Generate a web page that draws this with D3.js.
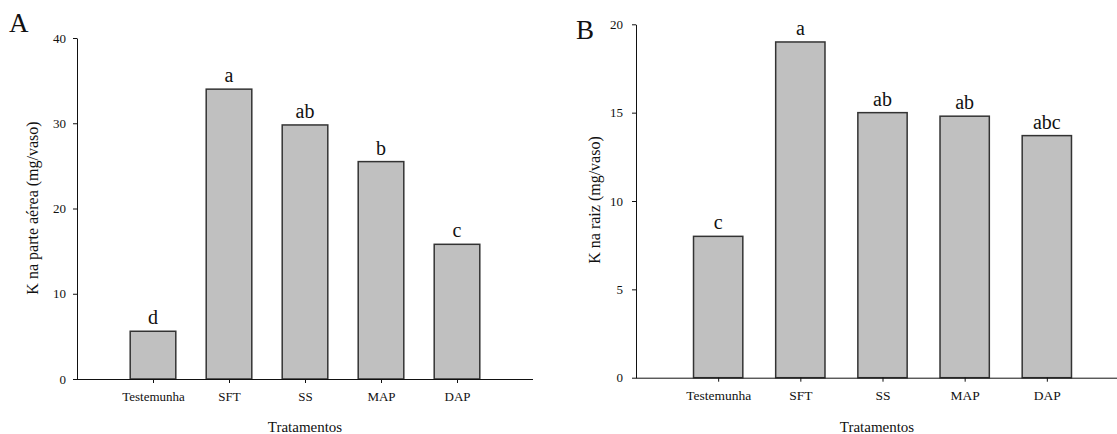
<!DOCTYPE html>
<html>
<head>
<meta charset="utf-8">
<script src="https://cdn.jsdelivr.net/npm/d3@7"></script>
<style>
  html, body { margin: 0; padding: 0; background: #fff; }
  svg { display: block; }
  text { font-family: "Liberation Serif", "Times New Roman", serif; fill: #111; }
</style>
</head>
<body>
<svg id="chart" width="1117" height="434"></svg>
<script>
// Treatments and K contents
const categories = ["Testemunha", "SFT", "SS", "MAP", "DAP"];
const shootK = [5.6, 34.0, 29.8, 25.5, 15.8];
const shootLetters = ["d", "a", "ab", "b", "c"];
const rootK = [8.0, 19.0, 15.0, 14.8, 13.7];
const rootLetters = ["c", "a", "ab", "ab", "abc"];
const shootTicks = [0, 10, 20, 30, 40];
const rootTicks = [0, 5, 10, 15, 20];

const svg = d3.select("#chart");

function panel(opts) {
  const g = svg.append("g");
  const x = d3.scalePoint().domain(categories).range([opts.x0, opts.x1]).padding(1);
  const y = d3.scaleLinear().domain([0, opts.yMax]).range([opts.yBottom, opts.yTop]);
  const bw = x.step() * 0.6;

  // bars
  g.selectAll("rect.bar").data(opts.values).enter().append("rect")
    .attr("class", "bar")
    .attr("x", (d, i) => x(categories[i]) - bw / 2)
    .attr("y", d => y(d))
    .attr("width", bw)
    .attr("height", d => y(0) - y(d))
    .attr("fill", "#c0c0c0")
    .attr("stroke", "#333")
    .attr("stroke-width", 1.5);

  // significance letters
  g.selectAll("text.letter").data(opts.values).enter().append("text")
    .attr("class", "letter")
    .attr("x", (d, i) => x(categories[i]))
    .attr("y", d => y(d) - 7)
    .attr("text-anchor", "middle")
    .attr("font-size", 20)
    .text((d, i) => opts.letters[i]);

  // y axis
  const ya = g.append("g")
    .attr("transform", `translate(${opts.x0},0)`)
    .call(d3.axisLeft(y).tickValues(opts.ticks).tickSize(4).tickPadding(opts.tickPad).tickSizeOuter(0));
  ya.selectAll("text").attr("font-size", 13).attr("font-family", "Liberation Serif").attr("fill", "#222");

  // x axis
  const xa = g.append("g")
    .attr("transform", `translate(0,${opts.yBottom})`)
    .call(d3.axisBottom(x).tickSize(4).tickPadding(9).tickSizeOuter(0));
  xa.selectAll("text").attr("font-size", opts.catSize).attr("font-family", "Liberation Serif").attr("fill", "#222");
  xa.select(".domain").attr("d", `M${opts.x0},0.5H${opts.x1}`);

  g.selectAll(".domain").attr("stroke", "#111");
  g.selectAll(".tick line").attr("stroke", "#111");

  // axis titles
  g.append("text")
    .attr("x", opts.xTitleX).attr("y", 432)
    .attr("text-anchor", "middle").attr("font-size", 15)
    .text("Tratamentos");
  g.append("text")
    .attr("transform", `translate(${opts.yTitleX},${opts.yTitleY}) rotate(-90)`)
    .attr("text-anchor", "middle").attr("font-size", 16)
    .text(opts.yTitle);

  // panel letter
  g.append("text")
    .attr("x", opts.tagX).attr("y", opts.tagY)
    .attr("font-size", 27)
    .text(opts.tag);
}

panel({
  x0: 77, x1: 533, yTop: 38, yBottom: 379, yMax: 40,
  values: shootK, letters: shootLetters, ticks: shootTicks, tickPad: 7, catSize: 13,
  xTitleX: 305, yTitleX: 38, yTitleY: 208, yTitle: "K na parte aérea (mg/vaso)",
  tag: "A", tagX: 9, tagY: 32
});

panel({
  x0: 636, x1: 1129, yTop: 24.3, yBottom: 377.7, yMax: 20,
  values: rootK, letters: rootLetters, ticks: rootTicks, tickPad: 9, catSize: 13.5,
  xTitleX: 877, yTitleX: 600, yTitleY: 200, yTitle: "K na raiz (mg/vaso)",
  tag: "B", tagX: 576, tagY: 39
});
</script>
</body>
</html>
